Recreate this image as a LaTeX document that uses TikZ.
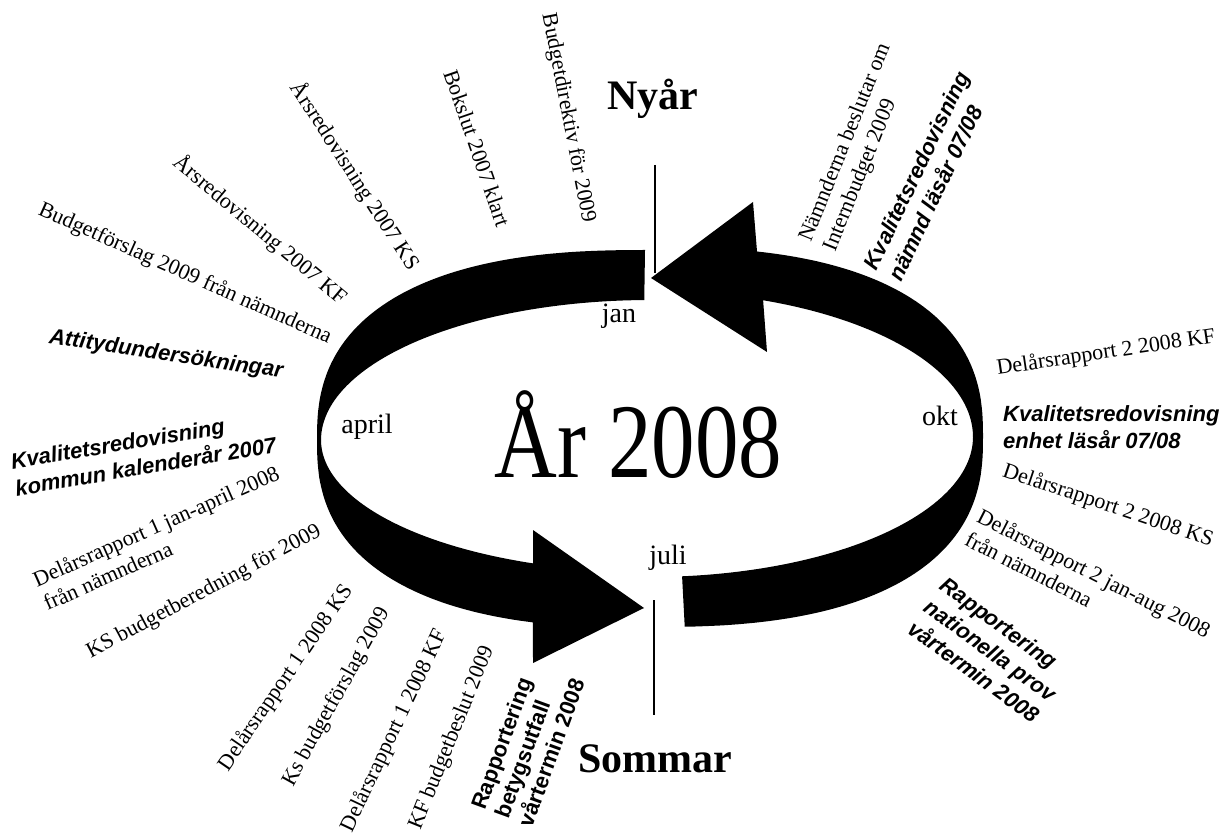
\documentclass[tikz,border=0pt]{standalone}
\usepackage{fontspec}
\setmainfont{Liberation Serif}
\newfontfamily\arialfont{Liberation Sans}
\tikzset{
  lab/.style={inner sep=0pt, font=\fontsize{22}{26}\selectfont, align=left},
  bilab/.style={inner sep=0pt, font=\arialfont\bfseries\itshape\fontsize{22}{27}\selectfont, align=left},
  blab/.style={inner sep=0pt, font=\arialfont\bfseries\fontsize{22}{25}\selectfont, align=left},
  month/.style={inner sep=0pt, font=\fontsize{28}{30}\selectfont},
  season/.style={inner sep=0pt, font=\bfseries\fontsize{42}{46}\selectfont, anchor=base},
  band/.style={fill=black},
  divider/.style={line width=1.2pt},
}
\begin{document}
\begin{tikzpicture}[x=1pt,y=-1pt]
\fill[white] (0,0) rectangle (1224,834);
\useasboundingbox (0,0) rectangle (1224,834);

% left arrow: jan -> april -> juli
\fill[band] plot[domain=90.3:180,samples=80] ({650-333*pow(abs(cos(\x))+0.00001,0.8)},{440-190*pow(abs(sin(\x))+0.00001,0.8)})
  -- plot[domain=180:254.3,samples=70] ({650-333*pow(abs(cos(\x))+0.00001,0.8)},{440+188*pow(abs(sin(\x))+0.00001,0.8)})
  -- (533,663) -- (644,608) -- (533,530)
  -- plot[domain=249.2:180,samples=60] ({650+329*cos(\x)},{440-132*sin(\x)})
  -- plot[domain=180:91,samples=60] ({650+329*cos(\x)},{440-140*sin(\x)})
  -- cycle;

% right arrow: juli -> okt -> jan
\fill[band] plot[domain=-86.6:0,samples=70] ({650+333*pow(abs(cos(\x))+0.00001,0.8)},{437+190*pow(abs(sin(\x))+0.00001,0.8)})
  -- plot[domain=0:76,samples=70] ({650+333*pow(abs(cos(\x))+0.00001,0.8)},{437-190*pow(abs(sin(\x))+0.00001,0.8)})
  -- (753,202) -- (651,278) -- (767,352)
  -- plot[domain=69.5:0,samples=60] ({650+323*cos(\x)},{437-146*sin(\x)})
  -- plot[domain=0:-84.3,samples=60] ({650+323*cos(\x)},{437-140*sin(\x)})
  -- cycle;

% dividers
\coordinate (janTop) at (655,165);
\coordinate (janBot) at (655,273);
\coordinate (julTop) at (654,600);
\coordinate (julBot) at (654,715);
\draw[divider] (janTop) -- (janBot);
\draw[divider] (julTop) -- (julBot);

% centre, seasons, months
\node[anchor=base, inner sep=0pt, xscale=0.82, font=\fontsize{106}{110}\selectfont] (title) at (638.5,477) {År 2008};
\node[season] (nyar) at (653,110) {Nyår};
\node[season] (sommar) at (655,772) {Sommar};
\node[month] (jan) at (619,316) {jan};
\node[month] (apr) at (367,427) {april};
\node[month] (okt) at (940,416) {okt};
\node[month] (jul) at (668,558) {juli};

% labels
\node[lab, rotate=-24] (t1) at (185,274) {Budgetförslag 2009 från nämnderna};
\node[lab, rotate=-40] (t2) at (260,230) {Årsredovisning 2007 KF};
\node[lab, rotate=-57] (t3) at (355,176) {Årsredovisning 2007 KS};
\node[lab, rotate=-71] (t4) at (477,148) {Bokslut 2007 klart};
\node[lab, rotate=-79] (t5) at (568,118) {Budgetdirektiv för 2009};
\node[lab, rotate=68, anchor=west] (t6) at (818,246) {Nämnderna beslutar om\\Internbudget 2009};
\node[bilab, rotate=64.5, anchor=west] (t7) at (882,274) {Kvalitetsredovisning\\nämnd läsår 07/08};
\node[lab, rotate=8.5] (t8) at (1106,353) {Delårsrapport 2 2008 KF};
\node[bilab, anchor=west] (t9) at (1003,427) {Kvalitetsredovisning\\enhet läsår 07/08};
\node[lab, rotate=-18.5] (t10) at (1108,506) {Delårsrapport 2 2008 KS};
\node[lab, rotate=-27, anchor=west] (t11) at (973,526) {Delårsrapport 2 jan-aug 2008\\från nämnderna};
\node[bilab, rotate=-36, anchor=west] (t12) at (927,604) {Rapportering\\nationella prov\\vårtermin 2008};
\node[lab, rotate=55.5] (t13) at (286,678) {Delårsrapport 1 2008 KS};
\node[lab, rotate=61] (t14) at (337,697) {Ks budgetförslag 2009};
\node[lab, rotate=64.6] (t15) at (394,731) {Delårsrapport 1 2008 KF};
\node[lab, rotate=68] (t16) at (452,738) {KF budgetbeslut 2009};
\node[blab, rotate=70, anchor=west] (t17) at (501,817) {Rapportering\\betygsutfall\\vårtermin 2008};
\node[lab, rotate=28] (t18) at (204,592) {KS budgetberedning för 2009};
\node[lab, rotate=24, anchor=west] (t19) at (39,592) {Delårsrapport 1 jan-april 2008\\från nämnderna};
\node[bilab, rotate=9.5, anchor=west] (t20) at (13,475) {Kvalitetsredovisning\\kommun kalenderår 2007};
\node[bilab, rotate=-8.5] (t21) at (166,355) {Attitydundersökningar};
\end{tikzpicture}
\end{document}
